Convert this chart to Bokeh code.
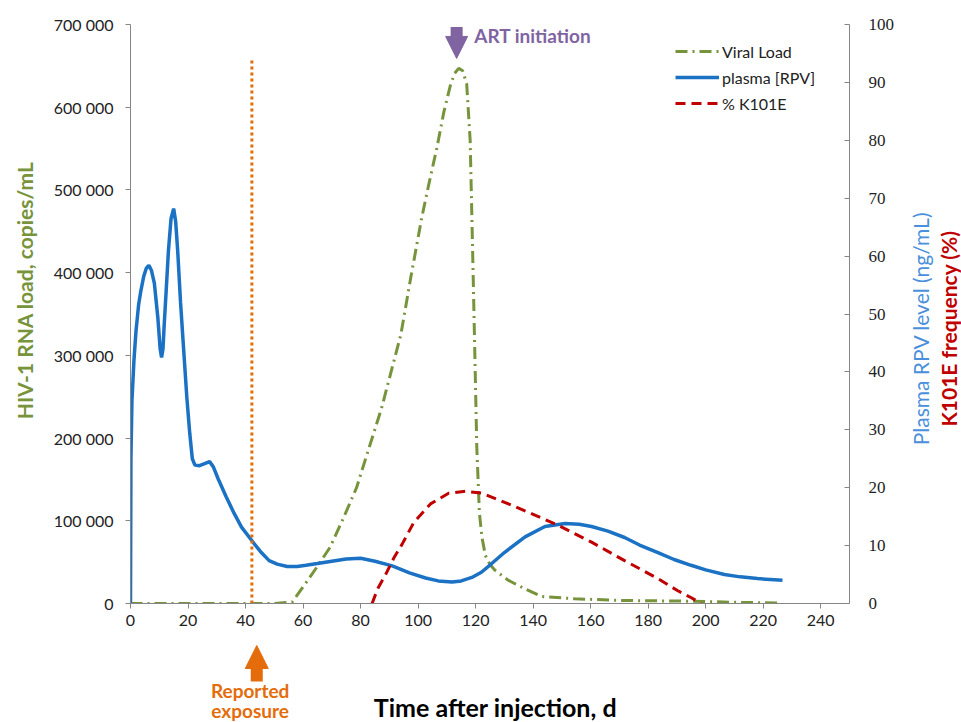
from bokeh.plotting import figure
from bokeh.layouts import column, row
from bokeh.models import Range1d, LinearAxis, Legend, LegendItem, Label, Arrow, NormalHead, FixedTicker
from bokeh.embed import file_html
from bokeh.resources import INLINE

# ---------------- data ----------------
x_ticks = [0, 20, 40, 60, 80, 100, 120, 140, 160, 180, 200, 220, 240]
left_ticks = [0, 100000, 200000, 300000, 400000, 500000, 600000, 700000]
left_tick_labels = ["0", "100 000", "200 000", "300 000", "400 000", "500 000", "600 000", "700 000"]
right_ticks = [0, 10, 20, 30, 40, 50, 60, 70, 80, 90, 100]

# Viral load (copies/mL, left axis)
vl_day = [0, 10, 20, 30, 40, 50, 56.3, 60.4, 65, 69.4, 74, 78.6, 82.2, 87.2, 94, 97.5, 101.3,
          103.8, 106.6, 109, 111.2, 112.7, 114.1, 115.5, 116.9, 118.1, 119, 119.8, 120.4, 121.3,
          122.2, 123.4, 125, 126.8, 131.4, 137, 143, 154.5, 171.8, 195, 210, 226]
vl_val = [0, 0, 0, 0, 0, 0, 2000, 22000, 45000, 68000, 103000, 140000, 180000, 235000, 325000,
          395000, 467000, 508000, 552000, 595000, 626000, 641000, 647000, 644000, 628000, 560000,
          420000, 290000, 190000, 110000, 80000, 58000, 47000, 40000, 28000, 18000, 8500, 5700,
          3600, 2800, 1500, 500]

# Plasma RPV (ng/mL, right axis)
rpv_day = [0, 0.15, 0.5, 1.2, 1.9, 2.8, 3.6, 4.6, 5.5, 6.4, 7.3, 8.3, 9.5, 10.3, 10.8, 11.3,
           11.7, 12.4, 13.2, 14.1, 15, 15.7, 16.4, 17.4, 18.5, 19.6, 20.6, 21.5, 22.4, 24, 26,
           27.5, 28.8, 30.5, 33.3, 36, 38.6, 42.9, 45.5, 48.2, 51, 54.5, 58, 61, 65, 70, 75, 80,
           85, 91, 97, 102.6, 107, 111.8, 115, 118.7, 122, 125.6, 130, 137.2, 144.1, 151.1,
           156, 160.3, 166, 171.8, 177, 183.4, 189, 194.9, 200, 206.5, 212, 218, 226.7]
rpv_val = [0, 25, 35, 42, 47, 51.5, 54, 56.5, 57.9, 58.4, 57.5, 55.3, 49.4, 44, 42.5, 44, 48, 54,
           61, 66.5, 68.2, 66, 61, 52, 43.7, 35.5, 29.4, 25, 23.9, 23.8, 24.2, 24.5, 23.6, 21.5,
           18.4, 15.6, 13.2, 10.4, 8.8, 7.4, 6.8, 6.4, 6.4, 6.6, 6.9, 7.3, 7.7, 7.8, 7.3, 6.5,
           5.3, 4.4, 3.9, 3.7, 3.9, 4.5, 5.4, 6.9, 8.8, 11.5, 13.3, 13.8, 13.7, 13.3, 12.5,
           11.4, 10.1, 8.8, 7.6, 6.6, 5.8, 5.0, 4.6, 4.3, 4.0]

# K101E frequency (%, right axis)
k101e_day = [84, 86, 88.7, 91.5, 94.5, 98.5, 104.3, 110.6, 116.4, 122.2, 131.4, 140, 148.7,
             160.3, 171.8, 183.4, 190.3, 195, 198.4]
k101e_val = [0, 2.6, 5.0, 7.8, 10.3, 14.0, 17.2, 19.05, 19.4, 19.05, 17.2, 15.4, 13.5, 10.6,
             7.4, 4.3, 2.2, 1.0, 0]

exposure_day = [42.2, 42.2]
exposure_vl = [0, 660000]
art_day = 113.4
exposure_arrow_day = 43.9

GREEN = "#77933C"
BLUE = "#1B72C4"
RED = "#C00000"
ORANGE = "#E46C0A"
PURPLE = "#8064A2"
AXIS = "#868686"
FONT = "Lato"
EM = "\u2003"

MAIN_W = 897
SIDE_W = 961 - MAIN_W

p = figure(width=MAIN_W, height=640, output_backend="svg", toolbar_location=None,
           x_range=Range1d(0, 250), y_range=Range1d(0, 700000),
           min_border_left=130, min_border_right=MAIN_W - 851, min_border_top=24,
           min_border_bottom=37)
p.outline_line_color = None
p.grid.visible = False
p.extra_y_ranges = {"right": Range1d(0, 100)}

# axes
xa = p.xaxis[0]
xa.ticker = FixedTicker(ticks=x_ticks)
xa.major_label_text_font = FONT
xa.major_label_text_font_size = "16px"
xa.major_label_text_color = "#222222"
xa.major_label_standoff = 6

ya = p.yaxis[0]
ya.ticker = FixedTicker(ticks=left_ticks)
ya.major_label_overrides = dict(zip(left_ticks, left_tick_labels))
ya.axis_label = EM * 3 + "HIV-1 RNA load, copies/mL"
ya.axis_label_text_font = FONT
ya.axis_label_text_font_style = "bold"
ya.axis_label_text_font_size = "21px"
ya.axis_label_text_color = GREEN
ya.axis_label_standoff = 14
ya.major_label_text_font = FONT
ya.major_label_text_font_size = "16px"
ya.major_label_text_color = "#222222"
ya.major_label_standoff = 12

ra = LinearAxis(y_range_name="right", ticker=FixedTicker(ticks=right_ticks))
ra.major_label_text_font = "Liberation Serif"
ra.major_label_text_font_size = "17px"
ra.major_label_text_color = "#222222"
ra.major_label_standoff = 19
ra.major_tick_in = 5
ra.major_tick_out = 0
p.add_layout(ra, "right")

for ax in (xa, ya, ra):
    ax.axis_line_color = AXIS
    ax.major_tick_line_color = AXIS
    ax.minor_tick_line_color = None
for ax in (xa, ya):
    ax.major_tick_in = 0
    ax.major_tick_out = 5

# series
r_vl = p.line(vl_day, vl_val, line_color=GREEN, line_width=3, line_dash="12 5 2 5")
r_rpv = p.line(rpv_day, rpv_val, line_color=BLUE, line_width=3.5, y_range_name="right")
r_k = p.line(k101e_day, k101e_val, line_color=RED, line_width=3, line_dash="10 6",
             y_range_name="right")
p.line(exposure_day, exposure_vl, line_color=ORANGE, line_width=3, line_dash="3 3")

legend = Legend(items=[LegendItem(label="Viral Load", renderers=[r_vl]),
                       LegendItem(label="plasma [RPV]", renderers=[r_rpv]),
                       LegendItem(label="% K101E", renderers=[r_k])],
                location=(545, 490), border_line_color=None, background_fill_alpha=0,
                padding=5, spacing=6, glyph_width=44, glyph_height=20, label_height=20,
                label_standoff=3, label_text_font=FONT, label_text_font_size="16px",
                label_text_color="#222222", margin=0)
p.add_layout(legend, "center")

p.add_layout(Arrow(end=NormalHead(size=22, fill_color=PURPLE, line_color=PURPLE, line_width=1),
                   x_start=art_day, y_start=697000, x_end=art_day, y_end=659000,
                   line_color=PURPLE, line_width=12))
p.add_layout(Label(x=119.5, y=687000, text="ART initiation", text_font=FONT,
                   text_font_style="bold", text_font_size="19px", text_color=PURPLE,
                   text_align="left", text_baseline="middle"))

# ---- strip below the x axis (annotations + x-axis title) ----
q = figure(width=MAIN_W, height=82, output_backend="svg", toolbar_location=None,
           x_range=p.x_range, y_range=Range1d(0, 82), x_axis_type=None, y_axis_type=None,
           min_border_left=130, min_border_right=MAIN_W - 851, min_border_top=0,
           min_border_bottom=0)
q.outline_line_color = None
q.grid.visible = False

q.add_layout(Arrow(end=NormalHead(size=23, fill_color=ORANGE, line_color=ORANGE, line_width=1),
                   x_start=exposure_arrow_day, y_start=41, x_end=exposure_arrow_day, y_end=77,
                   line_color=ORANGE, line_width=12))
q.add_layout(Label(x=41.6, y=32, text="Reported", text_font=FONT, text_font_style="bold",
                   text_font_size="19px", text_color=ORANGE, text_align="center",
                   text_baseline="middle"))
q.add_layout(Label(x=41.6, y=12, text="exposure", text_font=FONT, text_font_style="bold",
                   text_font_size="19px", text_color=ORANGE, text_align="center",
                   text_baseline="middle"))
q.add_layout(Label(x=126.9, y=16, text="Time after injection, d", text_font=FONT,
                   text_font_style="bold", text_font_size="25px", text_color="#000000",
                   text_align="center", text_baseline="middle"))

# ---- strip at the right (right-axis titles) ----
r = figure(width=SIDE_W, height=722, output_backend="svg", toolbar_location=None,
           x_range=Range1d(0, SIDE_W), y_range=Range1d(0, 722), x_axis_type=None,
           y_axis_type=None, min_border_left=0, min_border_right=0, min_border_top=0,
           min_border_bottom=0)
r.outline_line_color = None
r.grid.visible = False
r.add_layout(Label(x=920 - MAIN_W, y=722 - 328, text="Plasma RPV level (ng/mL)", text_font=FONT,
                   text_font_size="21px", text_color="#4A8FDB", angle=90, angle_units="deg",
                   text_align="center", text_baseline="middle"))
r.add_layout(Label(x=948 - MAIN_W, y=722 - 328, text="K101E frequency (%)", text_font=FONT,
                   text_font_style="bold", text_font_size="21px", text_color=RED, angle=90,
                   angle_units="deg", text_align="center", text_baseline="middle"))

layout = row(column(p, q, spacing=0), r, spacing=0)
open("out.html", "w").write(file_html(layout, INLINE))
